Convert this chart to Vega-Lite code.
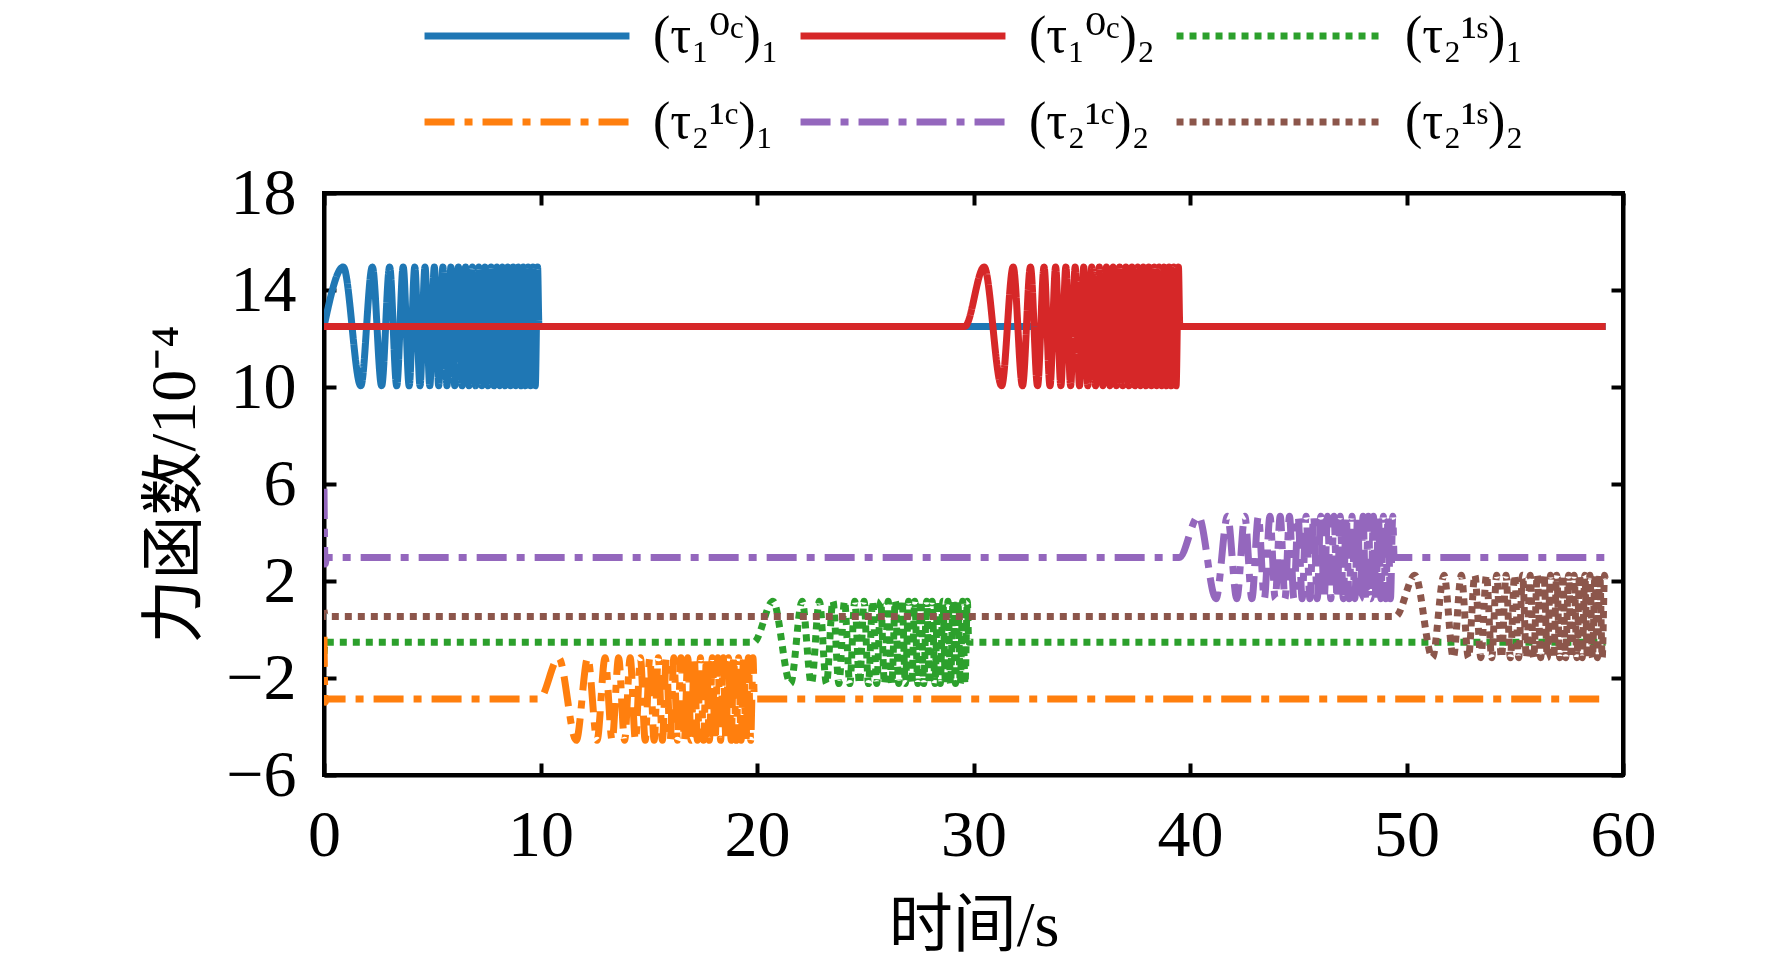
{
  "$schema": "https://vega.github.io/schema/vega-lite/v6.json",
  "width": 1299,
  "height": 582,
  "autosize": {"type": "none"},
  "padding": {"left": 324, "top": 193, "right": 149, "bottom": 191},
  "background": "white",
  "layer": [
    {
      "data": {
        "values": [
          {"k":"A","t":0,"v":12.5},
          {"k":"A","t":0.89,"v":14.95},{"k":"A","t":1.7,"v":10.05},{"k":"A","t":2.233,"v":14.95},{"k":"A","t":2.662,"v":10.05},
          {"k":"A","t":3.031,"v":14.95},{"k":"A","t":3.359,"v":10.05},{"k":"A","t":3.658,"v":14.95},{"k":"A","t":3.934,"v":10.05},
          {"k":"A","t":4.193,"v":14.95},{"k":"A","t":4.436,"v":10.05},{"k":"A","t":4.666,"v":14.95},{"k":"A","t":4.886,"v":10.05},
          {"k":"A","t":5.096,"v":14.95},{"k":"A","t":5.298,"v":10.05},{"k":"A","t":5.492,"v":14.95},{"k":"A","t":5.68,"v":10.05},
          {"k":"A","t":5.862,"v":14.95},{"k":"A","t":6.038,"v":10.05},{"k":"A","t":6.21,"v":14.95},{"k":"A","t":6.376,"v":10.05},
          {"k":"A","t":6.539,"v":14.95},{"k":"A","t":6.697,"v":10.05},{"k":"A","t":6.852,"v":14.95},{"k":"A","t":7.004,"v":10.05},
          {"k":"A","t":7.152,"v":14.95},{"k":"A","t":7.297,"v":10.05},{"k":"A","t":7.439,"v":14.95},{"k":"A","t":7.579,"v":10.05},
          {"k":"A","t":7.716,"v":14.95},{"k":"A","t":7.851,"v":10.05},{"k":"A","t":7.984,"v":14.95},{"k":"A","t":8.114,"v":10.05},
          {"k":"A","t":8.242,"v":14.95},{"k":"A","t":8.369,"v":10.05},{"k":"A","t":8.493,"v":14.95},{"k":"A","t":8.616,"v":10.05},
          {"k":"A","t":8.737,"v":14.95},{"k":"A","t":8.856,"v":10.05},{"k":"A","t":8.973,"v":14.95},{"k":"A","t":9.09,"v":10.05},
          {"k":"A","t":9.204,"v":14.95},{"k":"A","t":9.318,"v":10.05},{"k":"A","t":9.43,"v":14.95},{"k":"A","t":9.54,"v":10.05},
          {"k":"A","t":9.649,"v":14.95},{"k":"A","t":9.758,"v":10.05},{"k":"A","t":9.865,"v":14.95},
          {"k":"A","t":9.93,"v":12.5},{"k":"A","t":59.2,"v":12.5},

          {"k":"B","t":0,"v":12.5},{"k":"B","t":29.6,"v":12.5},
          {"k":"B","t":30.49,"v":14.95},{"k":"B","t":31.3,"v":10.05},{"k":"B","t":31.833,"v":14.95},{"k":"B","t":32.262,"v":10.05},
          {"k":"B","t":32.631,"v":14.95},{"k":"B","t":32.959,"v":10.05},{"k":"B","t":33.258,"v":14.95},{"k":"B","t":33.534,"v":10.05},
          {"k":"B","t":33.793,"v":14.95},{"k":"B","t":34.036,"v":10.05},{"k":"B","t":34.266,"v":14.95},{"k":"B","t":34.486,"v":10.05},
          {"k":"B","t":34.696,"v":14.95},{"k":"B","t":34.898,"v":10.05},{"k":"B","t":35.092,"v":14.95},{"k":"B","t":35.28,"v":10.05},
          {"k":"B","t":35.462,"v":14.95},{"k":"B","t":35.638,"v":10.05},{"k":"B","t":35.81,"v":14.95},{"k":"B","t":35.976,"v":10.05},
          {"k":"B","t":36.139,"v":14.95},{"k":"B","t":36.297,"v":10.05},{"k":"B","t":36.452,"v":14.95},{"k":"B","t":36.604,"v":10.05},
          {"k":"B","t":36.752,"v":14.95},{"k":"B","t":36.897,"v":10.05},{"k":"B","t":37.039,"v":14.95},{"k":"B","t":37.179,"v":10.05},
          {"k":"B","t":37.316,"v":14.95},{"k":"B","t":37.451,"v":10.05},{"k":"B","t":37.584,"v":14.95},{"k":"B","t":37.714,"v":10.05},
          {"k":"B","t":37.842,"v":14.95},{"k":"B","t":37.969,"v":10.05},{"k":"B","t":38.093,"v":14.95},{"k":"B","t":38.216,"v":10.05},
          {"k":"B","t":38.337,"v":14.95},{"k":"B","t":38.456,"v":10.05},{"k":"B","t":38.573,"v":14.95},{"k":"B","t":38.69,"v":10.05},
          {"k":"B","t":38.804,"v":14.95},{"k":"B","t":38.918,"v":10.05},{"k":"B","t":39.03,"v":14.95},{"k":"B","t":39.14,"v":10.05},
          {"k":"B","t":39.249,"v":14.95},{"k":"B","t":39.358,"v":10.05},{"k":"B","t":39.465,"v":14.95},
          {"k":"B","t":39.53,"v":12.5},{"k":"B","t":59.2,"v":12.5},

          {"k":"C","t":0,"v":-1.0},{"k":"C","t":0.06,"v":-0.53},{"k":"C","t":19.85,"v":-0.53},
          {"k":"C","t":20.74,"v":1.17},{"k":"C","t":21.55,"v":-2.23},{"k":"C","t":22.083,"v":1.17},{"k":"C","t":22.512,"v":-2.23},
          {"k":"C","t":22.881,"v":1.17},{"k":"C","t":23.209,"v":-2.23},{"k":"C","t":23.508,"v":1.17},{"k":"C","t":23.784,"v":-2.23},
          {"k":"C","t":24.043,"v":1.17},{"k":"C","t":24.286,"v":-2.23},{"k":"C","t":24.516,"v":1.17},{"k":"C","t":24.736,"v":-2.23},
          {"k":"C","t":24.946,"v":1.17},{"k":"C","t":25.148,"v":-2.23},{"k":"C","t":25.342,"v":1.17},{"k":"C","t":25.53,"v":-2.23},
          {"k":"C","t":25.712,"v":1.17},{"k":"C","t":25.888,"v":-2.23},{"k":"C","t":26.06,"v":1.17},{"k":"C","t":26.226,"v":-2.23},
          {"k":"C","t":26.389,"v":1.17},{"k":"C","t":26.547,"v":-2.23},{"k":"C","t":26.702,"v":1.17},{"k":"C","t":26.854,"v":-2.23},
          {"k":"C","t":27.002,"v":1.17},{"k":"C","t":27.147,"v":-2.23},{"k":"C","t":27.289,"v":1.17},{"k":"C","t":27.429,"v":-2.23},
          {"k":"C","t":27.566,"v":1.17},{"k":"C","t":27.701,"v":-2.23},{"k":"C","t":27.834,"v":1.17},{"k":"C","t":27.964,"v":-2.23},
          {"k":"C","t":28.092,"v":1.17},{"k":"C","t":28.219,"v":-2.23},{"k":"C","t":28.343,"v":1.17},{"k":"C","t":28.466,"v":-2.23},
          {"k":"C","t":28.587,"v":1.17},{"k":"C","t":28.706,"v":-2.23},{"k":"C","t":28.823,"v":1.17},{"k":"C","t":28.94,"v":-2.23},
          {"k":"C","t":29.054,"v":1.17},{"k":"C","t":29.168,"v":-2.23},{"k":"C","t":29.28,"v":1.17},{"k":"C","t":29.39,"v":-2.23},
          {"k":"C","t":29.499,"v":1.17},{"k":"C","t":29.608,"v":-2.23},{"k":"C","t":29.715,"v":1.17},
          {"k":"C","t":29.78,"v":-0.53},{"k":"C","t":59.2,"v":-0.53},

          {"k":"D","t":0,"v":-0.3},{"k":"D","t":0.05,"v":-3.0},{"k":"D","t":0.12,"v":-2.87},{"k":"D","t":9.95,"v":-2.87},
          {"k":"D","t":10.84,"v":-1.17},{"k":"D","t":11.65,"v":-4.57},{"k":"D","t":12.183,"v":-1.17},{"k":"D","t":12.612,"v":-4.57},
          {"k":"D","t":12.981,"v":-1.17},{"k":"D","t":13.309,"v":-4.57},{"k":"D","t":13.608,"v":-1.17},{"k":"D","t":13.884,"v":-4.57},
          {"k":"D","t":14.143,"v":-1.17},{"k":"D","t":14.386,"v":-4.57},{"k":"D","t":14.616,"v":-1.17},{"k":"D","t":14.836,"v":-4.57},
          {"k":"D","t":15.046,"v":-1.17},{"k":"D","t":15.248,"v":-4.57},{"k":"D","t":15.442,"v":-1.17},{"k":"D","t":15.63,"v":-4.57},
          {"k":"D","t":15.812,"v":-1.17},{"k":"D","t":15.988,"v":-4.57},{"k":"D","t":16.16,"v":-1.17},{"k":"D","t":16.326,"v":-4.57},
          {"k":"D","t":16.489,"v":-1.17},{"k":"D","t":16.647,"v":-4.57},{"k":"D","t":16.802,"v":-1.17},{"k":"D","t":16.954,"v":-4.57},
          {"k":"D","t":17.102,"v":-1.17},{"k":"D","t":17.247,"v":-4.57},{"k":"D","t":17.389,"v":-1.17},{"k":"D","t":17.529,"v":-4.57},
          {"k":"D","t":17.666,"v":-1.17},{"k":"D","t":17.801,"v":-4.57},{"k":"D","t":17.934,"v":-1.17},{"k":"D","t":18.064,"v":-4.57},
          {"k":"D","t":18.192,"v":-1.17},{"k":"D","t":18.319,"v":-4.57},{"k":"D","t":18.443,"v":-1.17},{"k":"D","t":18.566,"v":-4.57},
          {"k":"D","t":18.687,"v":-1.17},{"k":"D","t":18.806,"v":-4.57},{"k":"D","t":18.923,"v":-1.17},{"k":"D","t":19.04,"v":-4.57},
          {"k":"D","t":19.154,"v":-1.17},{"k":"D","t":19.268,"v":-4.57},{"k":"D","t":19.38,"v":-1.17},{"k":"D","t":19.49,"v":-4.57},
          {"k":"D","t":19.599,"v":-1.17},{"k":"D","t":19.708,"v":-4.57},{"k":"D","t":19.815,"v":-1.17},
          {"k":"D","t":19.88,"v":-2.87},{"k":"D","t":59.2,"v":-2.87},

          {"k":"E","t":0,"v":5.8},{"k":"E","t":0.05,"v":2.7},{"k":"E","t":0.12,"v":2.97},{"k":"E","t":39.5,"v":2.97},
          {"k":"E","t":40.39,"v":4.67},{"k":"E","t":41.2,"v":1.27},{"k":"E","t":41.733,"v":4.67},{"k":"E","t":42.162,"v":1.27},
          {"k":"E","t":42.531,"v":4.67},{"k":"E","t":42.859,"v":1.27},{"k":"E","t":43.158,"v":4.67},{"k":"E","t":43.434,"v":1.27},
          {"k":"E","t":43.693,"v":4.67},{"k":"E","t":43.936,"v":1.27},{"k":"E","t":44.166,"v":4.67},{"k":"E","t":44.386,"v":1.27},
          {"k":"E","t":44.596,"v":4.67},{"k":"E","t":44.798,"v":1.27},{"k":"E","t":44.992,"v":4.67},{"k":"E","t":45.18,"v":1.27},
          {"k":"E","t":45.362,"v":4.67},{"k":"E","t":45.538,"v":1.27},{"k":"E","t":45.71,"v":4.67},{"k":"E","t":45.876,"v":1.27},
          {"k":"E","t":46.039,"v":4.67},{"k":"E","t":46.197,"v":1.27},{"k":"E","t":46.352,"v":4.67},{"k":"E","t":46.504,"v":1.27},
          {"k":"E","t":46.652,"v":4.67},{"k":"E","t":46.797,"v":1.27},{"k":"E","t":46.939,"v":4.67},{"k":"E","t":47.079,"v":1.27},
          {"k":"E","t":47.216,"v":4.67},{"k":"E","t":47.351,"v":1.27},{"k":"E","t":47.484,"v":4.67},{"k":"E","t":47.614,"v":1.27},
          {"k":"E","t":47.742,"v":4.67},{"k":"E","t":47.869,"v":1.27},{"k":"E","t":47.993,"v":4.67},{"k":"E","t":48.116,"v":1.27},
          {"k":"E","t":48.237,"v":4.67},{"k":"E","t":48.356,"v":1.27},{"k":"E","t":48.473,"v":4.67},{"k":"E","t":48.59,"v":1.27},
          {"k":"E","t":48.704,"v":4.67},{"k":"E","t":48.818,"v":1.27},{"k":"E","t":48.93,"v":4.67},{"k":"E","t":49.04,"v":1.27},
          {"k":"E","t":49.149,"v":4.67},{"k":"E","t":49.258,"v":1.27},{"k":"E","t":49.365,"v":4.67},
          {"k":"E","t":49.43,"v":2.97},{"k":"E","t":59.2,"v":2.97},

          {"k":"F","t":0,"v":0.8},{"k":"F","t":0.06,"v":0.54},{"k":"F","t":49.5,"v":0.54},
          {"k":"F","t":50.39,"v":2.24},{"k":"F","t":51.2,"v":-1.16},{"k":"F","t":51.733,"v":2.24},{"k":"F","t":52.162,"v":-1.16},
          {"k":"F","t":52.531,"v":2.24},{"k":"F","t":52.859,"v":-1.16},{"k":"F","t":53.158,"v":2.24},{"k":"F","t":53.434,"v":-1.16},
          {"k":"F","t":53.693,"v":2.24},{"k":"F","t":53.936,"v":-1.16},{"k":"F","t":54.166,"v":2.24},{"k":"F","t":54.386,"v":-1.16},
          {"k":"F","t":54.596,"v":2.24},{"k":"F","t":54.798,"v":-1.16},{"k":"F","t":54.992,"v":2.24},{"k":"F","t":55.18,"v":-1.16},
          {"k":"F","t":55.362,"v":2.24},{"k":"F","t":55.538,"v":-1.16},{"k":"F","t":55.71,"v":2.24},{"k":"F","t":55.876,"v":-1.16},
          {"k":"F","t":56.039,"v":2.24},{"k":"F","t":56.197,"v":-1.16},{"k":"F","t":56.352,"v":2.24},{"k":"F","t":56.504,"v":-1.16},
          {"k":"F","t":56.652,"v":2.24},{"k":"F","t":56.797,"v":-1.16},{"k":"F","t":56.939,"v":2.24},{"k":"F","t":57.079,"v":-1.16},
          {"k":"F","t":57.216,"v":2.24},{"k":"F","t":57.351,"v":-1.16},{"k":"F","t":57.484,"v":2.24},{"k":"F","t":57.614,"v":-1.16},
          {"k":"F","t":57.742,"v":2.24},{"k":"F","t":57.869,"v":-1.16},{"k":"F","t":57.993,"v":2.24},{"k":"F","t":58.116,"v":-1.16},
          {"k":"F","t":58.237,"v":2.24},{"k":"F","t":58.356,"v":-1.16},{"k":"F","t":58.473,"v":2.24},{"k":"F","t":58.59,"v":-1.16},
          {"k":"F","t":58.704,"v":2.24},{"k":"F","t":58.818,"v":-1.16},{"k":"F","t":58.93,"v":2.24},{"k":"F","t":59.04,"v":-1.16},
          {"k":"F","t":59.149,"v":2.24},{"k":"F","t":59.2,"v":1.9}
        ]
      },
      "mark": {"type": "line", "interpolate": "monotone", "strokeWidth": 7, "clip": true},
      "encoding": {
        "x": {
          "field": "t", "type": "quantitative",
          "scale": {"domain": [0, 60], "nice": false, "zero": false},
          "axis": {"orient": "bottom", "values": [0, 10, 20, 30, 40, 50, 60], "title": "时间/s", "labelPadding": 40, "titlePadding": 26}
        },
        "y": {
          "field": "v", "type": "quantitative",
          "scale": {"domain": [-6, 18], "nice": false, "zero": false},
          "axis": {"orient": "left", "values": [-6, -2, 2, 6, 10, 14, 18], "title": "力函数/10⁻⁴", "labelPadding": 40, "titlePadding": 18}
        },
        "color": {
          "field": "k", "type": "nominal",
          "scale": {"domain": ["A", "B", "C", "D", "E", "F"], "range": ["#1f77b4", "#d62728", "#2ca02c", "#ff7f0e", "#9467bd", "#8c564b"]},
          "legend": {
            "labelExpr": "datum.label == 'A' ? '(τ₁⁰ᶜ)₁' : datum.label == 'B' ? '(τ₁⁰ᶜ)₂' : datum.label == 'C' ? '(τ₂¹ˢ)₁' : datum.label == 'D' ? '(τ₂¹ᶜ)₁' : datum.label == 'E' ? '(τ₂¹ᶜ)₂' : '(τ₂¹ˢ)₂'"
          }
        },
        "strokeDash": {
          "field": "k", "type": "nominal",
          "scale": {"domain": ["A", "B", "C", "D", "E", "F"], "range": [[1, 0], [1, 0], [7, 6], [30, 10, 8, 10], [30, 10, 8, 10], [7, 6]]},
          "legend": {
            "labelExpr": "datum.label == 'A' ? '(τ₁⁰ᶜ)₁' : datum.label == 'B' ? '(τ₁⁰ᶜ)₂' : datum.label == 'C' ? '(τ₂¹ˢ)₁' : datum.label == 'D' ? '(τ₂¹ᶜ)₁' : datum.label == 'E' ? '(τ₂¹ᶜ)₂' : '(τ₂¹ˢ)₂'"
          }
        }
      }
    },
    {
      "data": {"values": [{"t": 0, "v": -6}, {"t": 60, "v": 18}]},
      "mark": {"type": "point", "opacity": 0},
      "encoding": {
        "x": {"field": "t", "type": "quantitative", "axis": {"orient": "top", "values": [0, 10, 20, 30, 40, 50, 60], "labels": false, "title": null}},
        "y": {"field": "v", "type": "quantitative", "axis": {"orient": "right", "values": [-6, -2, 2, 6, 10, 14, 18], "labels": false, "title": null}}
      }
    }
  ],
  "resolve": {"axis": {"x": "independent", "y": "independent"}},
  "config": {
    "view": {"stroke": "black", "strokeWidth": 4},
    "axis": {
      "grid": false,
      "domainColor": "black",
      "domainWidth": 4,
      "tickColor": "black",
      "tickWidth": 4,
      "tickSize": -12,
      "labelFont": "Liberation Serif",
      "labelFontSize": 66,
      "labelColor": "black",
      "labelFlush": false,
      "labelOverlap": false,
      "titleFont": "Liberation Serif, Noto Sans CJK SC",
      "titleFontSize": 64,
      "titleFontWeight": "normal",
      "titleColor": "black"
    },
    "legend": {
      "orient": "none",
      "legendX": 97,
      "legendY": -192,
      "columns": 3,
      "direction": "horizontal",
      "title": null,
      "symbolType": "stroke",
      "symbolSize": 42000,
      "symbolStrokeWidth": 7,
      "clipHeight": 70,
      "labelFont": "Liberation Serif, DejaVu Serif",
      "labelFontSize": 52,
      "labelColor": "black",
      "labelOffset": 20,
      "labelLimit": 0,
      "columnPadding": 18,
      "rowPadding": 16
    }
  }
}
